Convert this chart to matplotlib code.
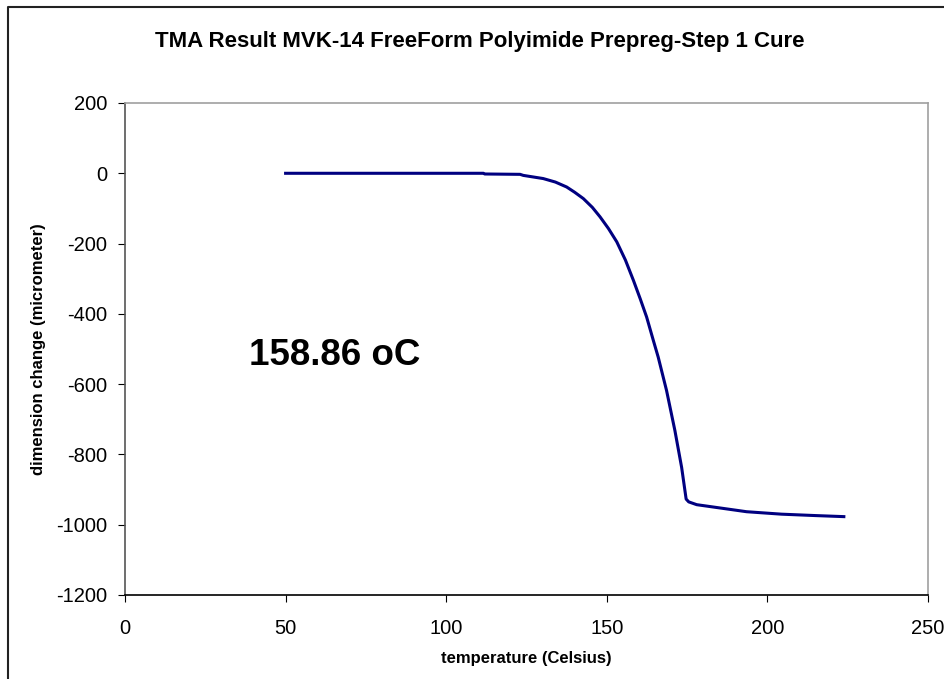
import numpy as np
from matplotlib import pyplot as plt
from matplotlib.lines import Line2D

plt.rcParams['font.family'] = ['Liberation Sans', 'DejaVu Sans']
plt.rcParams['axes.unicode_minus'] = False

# TMA curve
temperature = [50, 80, 111.6, 112, 123, 124, 130.2, 134, 137.5, 140, 142.7,
               145.5, 147.9, 150.5, 153.1, 155.8, 158.3, 160.4, 162.4, 164.5,
               166.0, 168.6, 171.2, 173.3, 174.7, 175.5, 178.0, 184.2, 193.5,
               204.4, 215, 223.8]
dimension = [0, 0, 0, -2, -3, -6, -15, -25, -39, -54, -72,
             -97, -124, -157, -195, -247, -305, -357, -409, -476,
             -523, -618, -732, -837, -927, -935, -943, -951, -963,
             -970, -974, -977]

title = 'TMA Result MVK-14 FreeForm Polyimide Prepreg-Step 1 Cure'
note = '158.86 oC'

fig = plt.figure(figsize=(9.45, 6.79), dpi=100)
ax = fig.add_axes([125/945, 1-595/679, (928-125)/945, (595-103)/679])

ax.plot(temperature, dimension, color='#000080', linewidth=2.2)

ax.set_xlim(0, 250)
ax.set_ylim(-1200, 200)
ax.set_xticks(np.arange(0, 251, 50))
ax.set_yticks(np.arange(-1200, 201, 200))
ax.tick_params(direction='out', length=5, labelsize=14.5)
ax.tick_params(axis='x', pad=12)
ax.tick_params(axis='y', pad=8)

ax.spines['left'].set_color('#555555')
ax.spines['bottom'].set_color('black')
ax.spines['top'].set_color('#a0a0a0')
ax.spines['right'].set_color('#a0a0a0')
for s in ax.spines.values():
    s.set_linewidth(1.2)

ax.set_xlabel('temperature (Celsius)', fontsize=12, fontweight='bold', labelpad=10)
ax.set_ylabel('dimension change (micrometer)', fontsize=12, fontweight='bold', labelpad=7)

ax.text(65.4, -518, note, fontsize=26.5, fontweight='bold', va='center', ha='center')

fig.text(480/945, 1-41/679, title, fontsize=16, fontweight='bold', ha='center', va='center')

# outer chart frame: only left and top edges fall inside the picture
fig.lines.append(Line2D([8/945, 8/945, 1.01], [-0.01, 1-7/679, 1-7/679],
                        color='#222222', linewidth=1.5, transform=fig.transFigure))

fig.savefig('out.png', dpi=100)
